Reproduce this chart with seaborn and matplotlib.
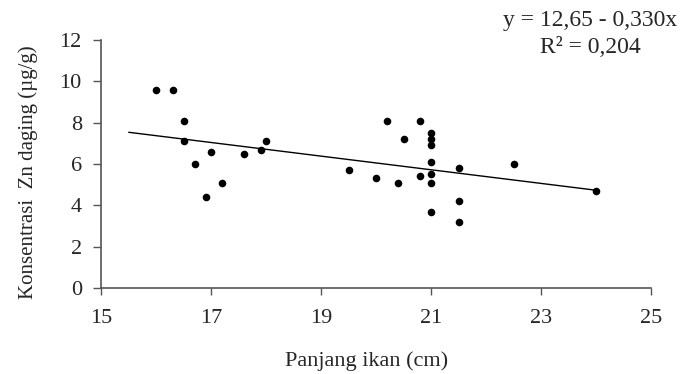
import numpy as np
import pandas as pd
import matplotlib
matplotlib.use("Agg")
import matplotlib.pyplot as plt
import seaborn as sns

# Data
panjang = [16.0, 16.3, 16.5, 16.5, 16.7, 16.9, 17.0, 17.2, 17.6, 17.9, 18.0,
           19.5, 20.0, 20.2, 20.4, 20.5, 20.8, 20.8,
           21.0, 21.0, 21.0, 21.0, 21.0, 21.0, 21.0,
           21.5, 21.5, 21.5, 22.5, 24.0]
zn = [9.6, 9.6, 8.1, 7.1, 6.0, 4.4, 6.6, 5.1, 6.5, 6.7, 7.1,
      5.7, 5.3, 8.1, 5.1, 7.2, 8.1, 5.4,
      7.5, 7.2, 6.9, 6.1, 5.5, 5.1, 3.7,
      5.8, 4.2, 3.2, 6.0, 4.7]
intercept = 12.65
slope = -0.330
line_x = [15.5, 24.0]
x_ticks = [15, 17, 19, 21, 23, 25]
y_ticks = [0, 2, 4, 6, 8, 10, 12]

df = pd.DataFrame({"x": panjang, "y": zn})
line_df = pd.DataFrame({"x": line_x, "y": [intercept + slope * v for v in line_x]})

sns.set_style("ticks")
plt.rcParams["font.family"] = ["Liberation Serif", "DejaVu Serif"]

fig = plt.figure(figsize=(6.84, 3.74), dpi=100)
ax = fig.add_axes([0.148, 0.23, 0.804, 0.663])

sns.lineplot(data=line_df, x="x", y="y", ax=ax, color="black", linewidth=1.0)
sns.scatterplot(data=df, x="x", y="y", ax=ax, color="black", s=30,
                edgecolor="black", linewidth=0)

ax.set_xlim(15, 25)
ax.set_ylim(0, 12)
ax.set_xticks(x_ticks)
ax.set_yticks(y_ticks)
ax.tick_params(axis="both", labelsize=16, width=1.0, color="#555555",
               direction="out")
ax.tick_params(axis="x", length=5, pad=10)
ax.tick_params(axis="y", length=6, pad=8)
for side in ["top", "right"]:
    ax.spines[side].set_visible(False)
for side in ["left", "bottom"]:
    ax.spines[side].set_color("#555555")
    ax.spines[side].set_linewidth(1.2)

ax.set_xlabel("Panjang ikan (cm)", fontsize=16)
ax.set_ylabel("Konsentrasi  Zn daging (\u00b5g/g)", fontsize=15)
ax.xaxis.set_label_coords(0.482, -0.254)
ax.yaxis.set_label_coords(-0.115, 0.468)

fig.text(0.8626, 0.944, "y = 12,65 - 0,330x", ha="center", va="center", fontsize=17)
fig.text(0.8626, 0.872, "R\u00b2 = 0,204", ha="center", va="center", fontsize=17)

fig.savefig("out.png", dpi=100)
